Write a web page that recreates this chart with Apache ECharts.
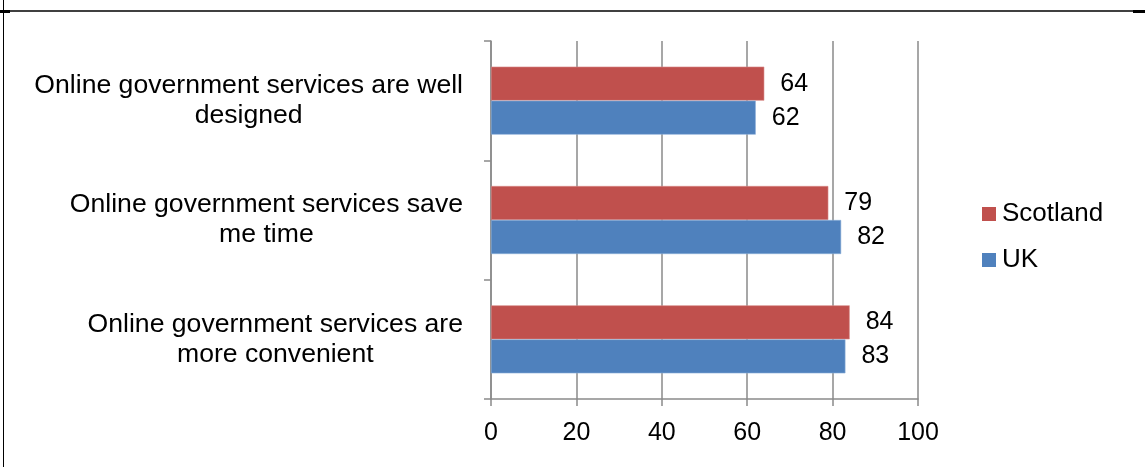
<!DOCTYPE html>
<html>
<head>
<meta charset="utf-8">
<script src="https://cdn.jsdelivr.net/npm/echarts@6/dist/echarts.min.js"></script>
<style>
html,body{margin:0;padding:0;background:#fff;}
#chart{width:1145px;height:467px;}
</style>
</head>
<body>
<div id="chart"></div>
<script>
const categories = [
  "Online government services are well\ndesigned",
  "Online government services save\nme time",
  "Online government services are\nmore convenient"
];
const seriesNames = ["Scotland", "UK"];
const scotlandValues = [64, 79, 84];
const ukValues = [62, 82, 83];
const xTicks = [0, 20, 40, 60, 80, 100];

const FONT = "'Liberation Sans', Arial, sans-serif";
const chart = echarts.init(document.getElementById('chart'), null, {renderer: 'canvas'});

function centeredLines(v) {
  return v.split('\n').map(s => '{c|' + s + '}').join('\n');
}

const option = {
  backgroundColor: '#ffffff',
  animation: false,
  grid: {left: 491, right: 227, top: 41, bottom: 68, containLabel: false},
  legend: {
    orient: 'vertical',
    left: 982,
    top: 201,
    padding: 0,
    icon: 'rect',
    itemWidth: 14,
    itemHeight: 14,
    itemGap: 20,
    data: seriesNames,
    itemStyle: {borderWidth: 0},
    textStyle: {fontFamily: FONT, fontSize: 26, color: '#000', lineHeight: 26, padding: [0, 0, 0, 1]}
  },
  xAxis: {
    type: 'value',
    min: xTicks[0],
    max: xTicks[xTicks.length - 1],
    interval: 20,
    axisLine: {show: true, lineStyle: {color: '#8a8a8a', width: 1.5}},
    axisTick: {show: true, length: 7, lineStyle: {color: '#8a8a8a', width: 1.5}},
    splitLine: {show: true, lineStyle: {color: '#8a8a8a', width: 1.5}},
    axisLabel: {fontFamily: FONT, fontSize: 25, color: '#000', margin: 22}
  },
  yAxis: {
    type: 'category',
    inverse: true,
    data: categories,
    axisLine: {show: true, lineStyle: {color: '#8a8a8a', width: 1.5}},
    axisTick: {show: true, length: 7, lineStyle: {color: '#8a8a8a', width: 1.5}},
    axisLabel: {
      fontFamily: FONT, fontSize: 26.6, color: '#000', margin: 28, lineHeight: 30,
      formatter: centeredLines,
      rich: {c: {fontFamily: FONT, fontSize: 26.6, color: '#000', lineHeight: 30, align: 'center'}}
    }
  },
  series: [
    {
      name: seriesNames[0],
      type: 'bar',
      data: scotlandValues,
      barWidth: 34,
      barGap: '0%',
      itemStyle: {color: '#C0504D', borderColor: '#d98a88', borderWidth: 0.6},
      label: {show: true, position: 'right', distance: 16, fontFamily: FONT, fontSize: 25, color: '#000', padding: [6, 0, 0, 0]}
    },
    {
      name: seriesNames[1],
      type: 'bar',
      data: ukValues,
      barWidth: 34,
      barGap: '0%',
      itemStyle: {color: '#4F81BD', borderColor: '#8aaed8', borderWidth: 0.6},
      label: {show: true, position: 'right', distance: 16, fontFamily: FONT, fontSize: 25, color: '#000', padding: [6, 0, 0, 0]}
    }
  ],
  graphic: [
    {type: 'line', shape: {x1: 0, y1: 11, x2: 1145, y2: 11}, style: {stroke: '#000', lineWidth: 1.5}},
    {type: 'line', shape: {x1: 3.5, y1: 0, x2: 3.5, y2: 467}, style: {stroke: '#000', lineWidth: 1}},
    {type: 'rect', shape: {x: 0, y: 10, width: 10, height: 3}, style: {fill: '#000'}},
    {type: 'rect', shape: {x: 1133, y: 10, width: 12, height: 3}, style: {fill: '#000'}}
  ]
};
chart.setOption(option);
</script>
</body>
</html>
